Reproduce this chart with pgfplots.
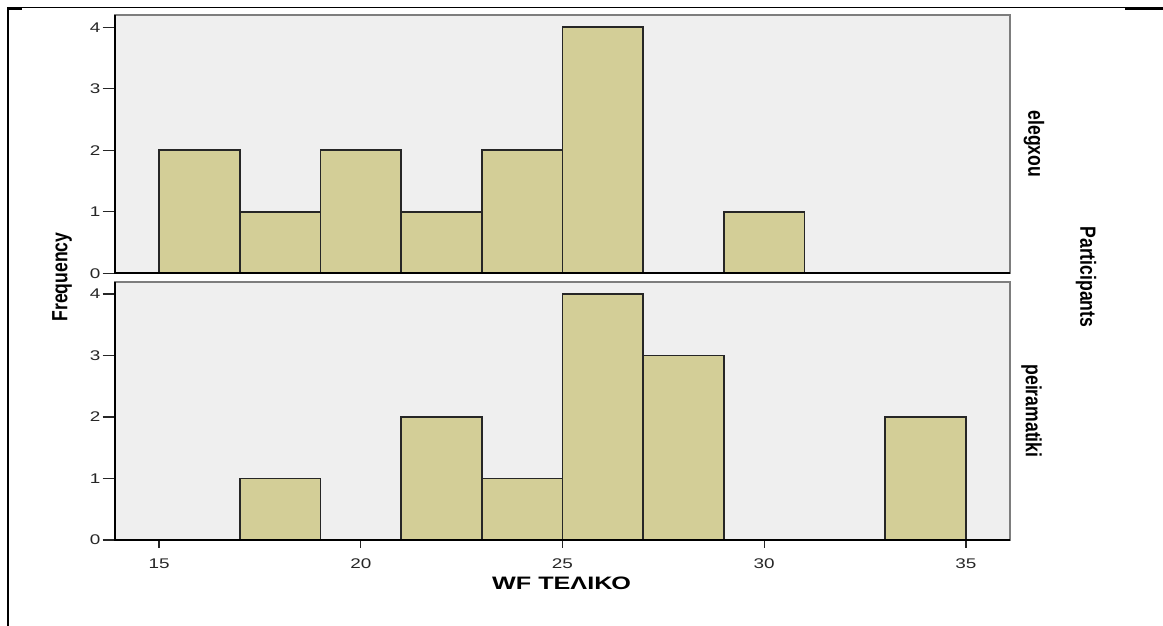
\documentclass[border=0pt]{standalone}
\usepackage{fontspec}
\setmainfont{Liberation Sans}
\newfontfamily\narrowfont{Liberation Sans}[FakeStretch=0.8]
\newfontfamily\widefont{Liberation Sans}[FakeStretch=1.4]
\newfontfamily\tickfont{Liberation Sans}[FakeStretch=1.35]
\usepackage{pgfplots}
\pgfplotsset{compat=1.18}
\definecolor{barfill}{RGB}{211,206,151}
\definecolor{panelbg}{RGB}{239,239,239}
\definecolor{frameg}{RGB}{125,125,125}
\pgfplotsset{
  panel/.style={
    scale only axis,
    width=447.8pt, height=129.15pt,
    anchor=south west,
    xmin=13.9, xmax=36.1,
    ymin=0, ymax=4.2,
    ytick={0,1,2,3,4},
    axis background/.style={fill=panelbg},
    axis line style={draw=frameg, line width=1pt},
    tick align=outside,
    tick pos=left,
    major tick length=6pt,
    every tick/.style={black!85, line width=0.7pt},
    /pgf/number format/assume math mode=true,
    ticklabel style={font=\tickfont\fontsize{7pt}{8pt}\selectfont, text=black!85},
    yticklabel style={inner sep=1pt},
    ybar, bar width=2, bar shift=0pt,
    clip=false,
  },
  bars/.style={fill=barfill, draw=black!85, line width=0.8pt},
}
\begin{document}
\begin{tikzpicture}
\useasboundingbox (0,0) rectangle (581.5pt,313pt);
% outer frame lines
\draw[black, line width=1pt] (4pt,0pt) -- (4pt,309pt);
\draw[black, line width=0.5pt] (3.5pt,309pt) -- (581.5pt,309pt);
\draw[black, line width=1pt] (562.5pt,308.6pt) -- (581.5pt,308.6pt);
\draw[black, line width=1pt] (3.5pt,308.6pt) -- (11pt,308.6pt);

% top panel: elegxou
\begin{axis}[panel, at={(57.35pt,176.35pt)}, xtick=\empty]
\addplot[bars] coordinates {(16,2) (18,1) (20,2) (22,1) (24,2) (26,4) (30,1)};
\draw[black, line width=1pt] (rel axis cs:0,1) -- (rel axis cs:0,0) -- (rel axis cs:1,0);
\end{axis}

% bottom panel: peiramatiki
\begin{axis}[panel, at={(57.35pt,43pt)}, xtick={15,20,25,30,35},
  xtick style={/pgfplots/major tick length=4pt}]
\addplot[bars] coordinates {(18,1) (22,2) (24,1) (26,4) (28,3) (34,2)};
\draw[black, line width=1pt] (rel axis cs:0,1) -- (rel axis cs:0,0) -- (rel axis cs:1,0);
\end{axis}

% labels
\node[font=\narrowfont\bfseries\fontsize{11pt}{12pt}\selectfont, rotate=90] at (31pt,174.5pt) {Frequency};
\node[font=\narrowfont\bfseries\fontsize{11pt}{12pt}\selectfont, rotate=-90] at (543pt,174.5pt) {Participants};
\node[font=\narrowfont\bfseries\fontsize{11pt}{12pt}\selectfont, rotate=-90] at (517pt,241pt) {elegxou};
\node[font=\narrowfont\bfseries\fontsize{11pt}{12pt}\selectfont, rotate=-90] at (515.75pt,107.5pt) {peiramatiki};
\node[font=\widefont\bfseries\fontsize{9pt}{10pt}\selectfont] at (280.75pt,21.25pt) {WF ΤΕΛΙΚΟ};
\end{tikzpicture}
\end{document}
